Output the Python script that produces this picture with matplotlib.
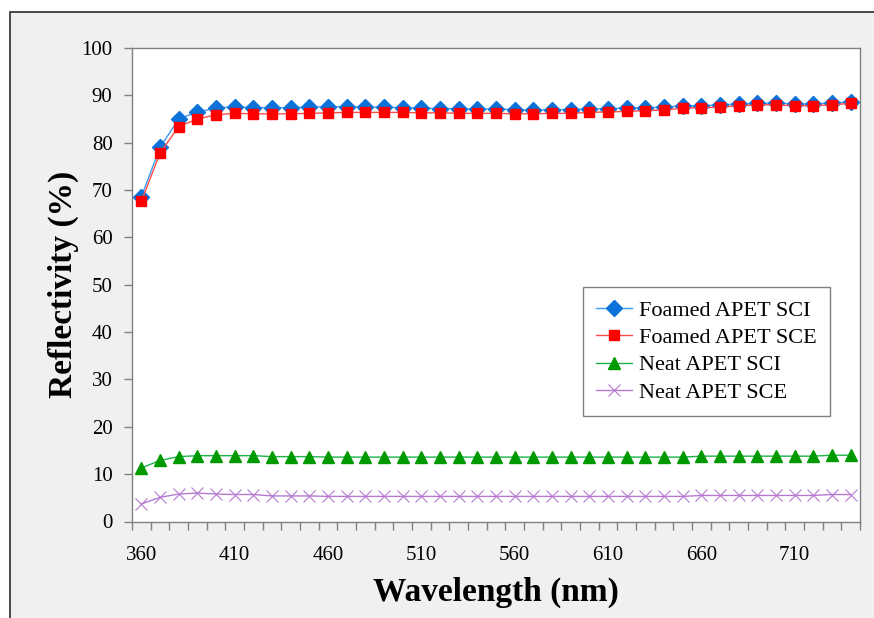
import matplotlib
matplotlib.use("Agg")
import matplotlib.pyplot as plt
from matplotlib.patches import Rectangle

# Wavelength categories (nm)
wavelength = list(range(360, 750, 10))

# Reflectivity (%)
foamed_sci = [68.6, 79.0, 85.0, 86.5, 87.3, 87.6, 87.4, 87.4, 87.4, 87.5,
              87.6, 87.6, 87.5, 87.5, 87.4, 87.3, 87.2, 87.2, 87.1, 87.1,
              87.0, 86.9, 87.0, 87.0, 87.1, 87.2, 87.3, 87.4, 87.5, 87.8,
              87.8, 88.0, 88.2, 88.3, 88.4, 88.2, 88.2, 88.4, 88.6]
foamed_sce = [67.6, 77.8, 83.4, 85.0, 85.9, 86.2, 86.1, 86.1, 86.1, 86.2,
              86.3, 86.4, 86.4, 86.4, 86.4, 86.3, 86.3, 86.2, 86.2, 86.2,
              86.1, 86.1, 86.2, 86.2, 86.4, 86.5, 86.6, 86.8, 86.9, 87.3,
              87.4, 87.5, 87.8, 88.0, 88.0, 87.8, 87.8, 88.0, 88.3]
neat_sci = [11.3, 12.9, 13.7, 13.9, 13.9, 13.9, 13.9, 13.7, 13.7, 13.7,
            13.6, 13.6, 13.6, 13.6, 13.6, 13.6, 13.6, 13.6, 13.6, 13.6,
            13.6, 13.6, 13.6, 13.6, 13.6, 13.6, 13.6, 13.6, 13.6, 13.6,
            13.8, 13.8, 13.8, 13.8, 13.8, 13.8, 13.8, 14.0, 14.0]
neat_sce = [3.7, 5.1, 5.8, 6.0, 5.8, 5.7, 5.7, 5.4, 5.4, 5.4,
            5.3, 5.3, 5.3, 5.3, 5.3, 5.3, 5.3, 5.3, 5.3, 5.3,
            5.3, 5.3, 5.3, 5.3, 5.3, 5.3, 5.3, 5.3, 5.3, 5.3,
            5.5, 5.5, 5.5, 5.5, 5.5, 5.5, 5.5, 5.7, 5.7]

x_labels = [360, 410, 460, 510, 560, 610, 660, 710]

plt.rcParams['font.family'] = ['Liberation Serif', 'DejaVu Serif']

fig = plt.figure(figsize=(8.74, 6.18), dpi=100, facecolor="white")

# Grey chart area with dark frame (cut off at right/bottom like the source)
fig.patches.append(Rectangle((10 / 874, -0.02), 1.05, 1 - 12 / 618 + 0.02,
                             transform=fig.transFigure, facecolor="#F0F0F0",
                             edgecolor="#3a3a3a", linewidth=1.3, zorder=-10))

ax = fig.add_axes([132 / 874, 1 - 521.5 / 618, 728 / 874, 473.5 / 618])
ax.set_facecolor("white")

ax.plot(wavelength, foamed_sci, color="#3d9cf0", lw=1.0, marker="D",
        markersize=8, markerfacecolor="#0a72d8", markeredgecolor="#0a72d8",
        label="Foamed APET SCI", zorder=3)
ax.plot(wavelength, foamed_sce, color="#ff4a4a", lw=1.0, marker="s",
        markersize=7.5, markerfacecolor="#ff0000", markeredgecolor="#ff0000",
        label="Foamed APET SCE", zorder=4)
ax.plot(wavelength, neat_sci, color="#1db34a", lw=1.0, marker="^",
        markersize=9, markerfacecolor="#009a00", markeredgecolor="#009a00",
        label="Neat APET SCI", zorder=3)
ax.plot(wavelength, neat_sce, color="#b57ad0", lw=1.0, marker="x",
        markersize=9, markeredgewidth=0.8, markeredgecolor="#b57ad0",
        label="Neat APET SCE", zorder=3)

ax.set_xlim(355, 745)
ax.set_ylim(0, 100)
ax.set_yticks(range(0, 101, 10))
ax.set_xticks(x_labels)
ax.set_xticks(range(355, 750, 10), minor=True)

ax.tick_params(axis="y", direction="out", length=6, width=1, color="#808080",
               labelsize=15, pad=8)
ax.tick_params(axis="x", which="major", length=0, labelsize=15, pad=18)
ax.tick_params(axis="x", which="minor", direction="out", length=6, width=1,
               color="#808080")

for side in ["left", "bottom", "top", "right"]:
    ax.spines[side].set_color("#808080")
    ax.spines[side].set_linewidth(1.0)

ax.set_xlabel("Wavelength (nm)", fontsize=24, fontweight="bold", labelpad=8)
ax.set_ylabel("Reflectivity (%)", fontsize=24, fontweight="bold", labelpad=2)

leg = ax.legend(loc="upper left", bbox_to_anchor=((583 - 132) / 728, 1 - (287 - 48) / 473.5),
                borderaxespad=0, fontsize=16, fancybox=False, framealpha=1,
                edgecolor="#808080", handlelength=1.6, labelspacing=0.3,
                handletextpad=0.3, borderpad=0.6)
leg.get_frame().set_linewidth(1.0)

fig.savefig("out.png", dpi=100, facecolor=fig.get_facecolor())
